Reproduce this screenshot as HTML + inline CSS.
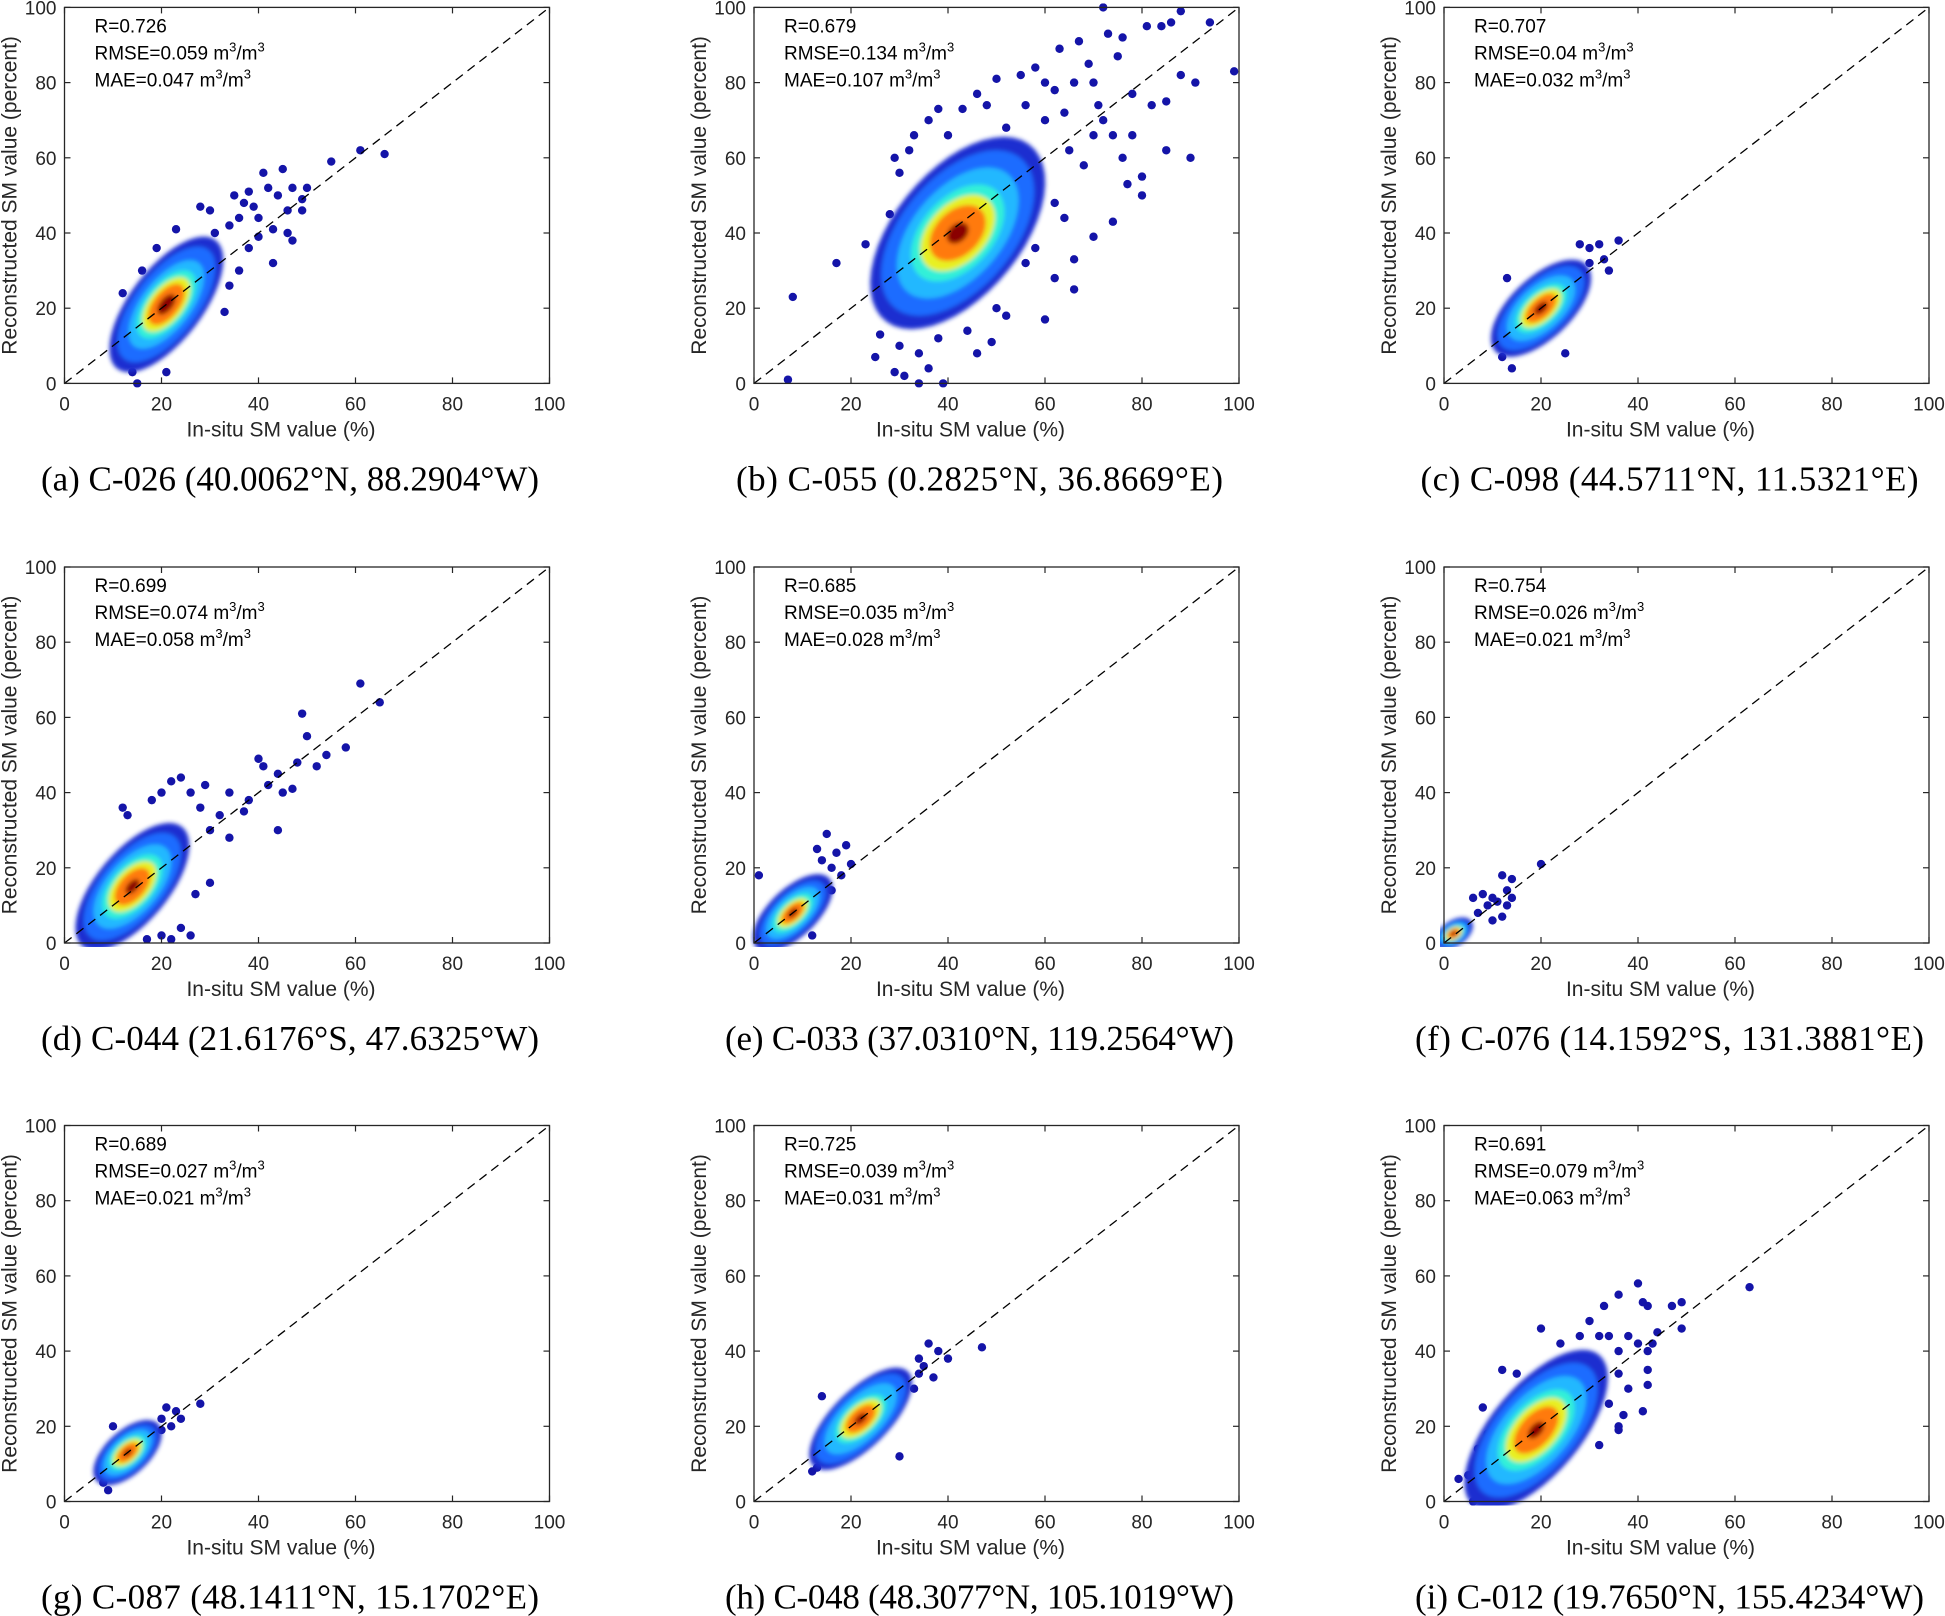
<!DOCTYPE html>
<html><head><meta charset="utf-8">
<style>
html,body{margin:0;padding:0;background:#fff;}
svg{display:block;}
.tick{font-family:"Liberation Sans",sans-serif;font-size:19px;fill:#262626;}
.lab{font-family:"Liberation Sans",sans-serif;font-size:21px;fill:#262626;}
.ann{font-family:"Liberation Sans",sans-serif;font-size:19px;fill:#000;}
.cap{font-family:"Liberation Serif",serif;font-size:35px;fill:#000;}
</style></head>
<body>
<svg id="fig" width="1945" height="1616" viewBox="0 0 1945 1616" xmlns="http://www.w3.org/2000/svg">
<defs><filter id="soft" x="-20%" y="-20%" width="140%" height="140%"><feGaussianBlur stdDeviation="2"/></filter></defs>
</svg>
<script>
// ---- data ----
const panelIds = ['a','b','c','d','e','f','g','h','i'];
const captions = ['C-026 (40.0062°N, 88.2904°W)','C-055 (0.2825°N, 36.8669°E)','C-098 (44.5711°N, 11.5321°E)',
 'C-044 (21.6176°S, 47.6325°W)','C-033 (37.0310°N, 119.2564°W)','C-076 (14.1592°S, 131.3881°E)',
 'C-087 (48.1411°N, 15.1702°E)','C-048 (48.3077°N, 105.1019°W)','C-012 (19.7650°N, 155.4234°W)'];
const rVals = ['0.726','0.679','0.707','0.699','0.685','0.754','0.689','0.725','0.691'];
const rmseVals = ['0.059','0.134','0.04','0.074','0.035','0.026','0.027','0.039','0.079'];
const maeVals = ['0.047','0.107','0.032','0.058','0.028','0.021','0.021','0.031','0.063'];
const tickVals = [0,20,40,60,80,100];
// density core per panel: centre x, centre y, tilt (deg), then half-lengths [along, across] per density level
const coreCenters = [[21,21],[42,40],[20,20],[14,15],[8,8],[2,2.5],[13,13],[22,22],[19,19]];
const coreTilt = [62,62,55,60,55,50,55,55,60];
const coreLevels = [
 [[20,8],[17,7],[13,5.5],[10,4.5],[8,3.7],[6,2.8],[3,1.4]],
 [[28,14],[24,12.5],[19,10],[14,8],[11,6.5],[8,5],[3,2]],
 [[15,7],[13,6],[10,5],[7.5,3.8],[6,3],[4.5,2.2],[2,1]],
 [[19,8],[16,7],[12.5,5.8],[9.5,4.7],[7.5,3.8],[5.5,2.8],[2.2,1.1]],
 [[12,5.5],[10,4.5],[8,3.7],[6,2.9],[4.5,2.2],[3.3,1.6],[1.5,0.7]],
 [[5,3],[4,2.5],[3.3,2],[2.6,1.7],[2.1,1.4],[1.6,1.1],[0.7,0.5]],
 [[10,5],[8.5,4.2],[7,3.5],[5.3,2.8],[4.2,2.2],[3,1.6],[1.2,0.6]],
 [[16,6.5],[14,5.8],[11,4.8],[7.5,3.7],[6,3],[4.3,2.2],[1.8,0.9]],
 [[24,10],[20,9],[16,7.5],[12,6],[9.5,4.8],[7,3.5],[2.5,1.3]]
];
const levelColors = ['#1c2fd0','#1f6cff','#22b8ff','#30f0d8','#e8f020','#ff7a10','#e01010'];
const coreDark = '#8a0000';
// sparse outlier points [x,y]
const outliers = [
 [[41,56],[45,57],[55,59],[61,62],[66,61],[47,52],[50,52],[42,52],[38,51],[35,50],[49,49],[49,46],[46,46],[43,41],[46,40],[47,38],[43,32],[33,19],[21,3],[15,0],[14,3],[12,24],[13,17],[40,44],[37,48],[39,47],[28,47],[30,46],[44,50],[23,41],[19,36],[16,30],[36,44],[34,42],[31,40],[38,36],[40,39],[36,30],[34,26]],
 [[7,1],[8,23],[17,32],[23,37],[72,100],[88,99],[94,96],[99,83],[91,80],[85,62],[90,60],[80,50],[74,43],[70,39],[66,25],[60,17],[39,0],[34,0],[29,3],[25,7],[81,95],[84,95],[86,96],[63,89],[67,91],[75,87],[55,82],[58,84],[50,81],[46,77],[82,74],[78,77],[71,74],[77,53],[80,55],[85,75],[88,82],[66,33],[62,28],[49,11],[46,8],[33,66],[36,70],[38,73],[30,56],[28,45],[43,73],[52,68],[69,85],[73,93],[76,92],[60,80],[64,72],[26,13],[31,2],[36,4],[65,62],[68,58],[70,66],[72,70],[74,66],[60,70],[56,74],[62,78],[66,80],[70,80],[78,66],[76,60],[62,48],[64,44],[58,36],[56,32],[30,10],[34,8],[38,12],[27,20],[29,60],[32,62],[40,66],[48,74],[44,14],[50,20],[52,18]],
 [[36,38],[32,37],[33,33],[12,7],[14,4],[30,36],[28,37],[34,30],[13,28],[25,8],[30,32],[12,12]],
 [[61,69],[65,64],[49,61],[50,55],[58,52],[54,50],[48,48],[52,47],[44,45],[40,49],[41,47],[45,40],[44,30],[37,35],[34,40],[38,38],[42,42],[24,44],[22,43],[29,42],[22,1],[17,1],[47,41],[12,36],[13,34],[30,16],[27,13],[30,30],[32,34],[28,36],[26,40],[20,40],[18,38],[34,28],[24,4],[20,2],[26,2]],
 [[15,29],[19,26],[17,24],[20,21],[18,18],[16,14],[13,25],[1,18],[12,2],[16,20],[14,22]],
 [[20,21],[12,18],[14,17],[13,14],[10,12],[8,13],[11,11],[13,10],[9,10],[7,8],[14,12],[6,12],[12,7],[10,6]],
 [[28,26],[23,24],[21,25],[24,22],[9,3],[8,5],[20,19],[10,20],[20,22],[22,20]],
 [[47,41],[40,38],[38,40],[36,42],[37,33],[12,8],[13,9],[34,38],[14,28],[30,12],[35,36],[34,34],[33,30]],
 [[63,57],[40,58],[49,53],[47,52],[49,46],[44,45],[41,53],[42,52],[36,55],[33,52],[20,46],[3,6],[6,0],[41,24],[32,15],[36,19],[42,31],[42,35],[42,40],[43,42],[37,23],[36,20],[12,35],[8,25],[5,7],[15,34],[24,42],[30,48],[11,0],[34,44],[38,44],[40,42],[36,40],[32,44],[28,44],[34,26],[38,30],[36,34],[9,18],[7,14]]
];
// ---- layout ----
const colLeft = [64.5, 754, 1444];
const rowTop = [7.4, 567, 1125.5];
const PW = 485, PH = 376;
const NS = 'http://www.w3.org/2000/svg';
const svg = document.getElementById('fig');
function mk(tag, attrs, parent){const e=document.createElementNS(NS,tag);for(const k in attrs)e.setAttribute(k,attrs[k]);(parent||svg).appendChild(e);return e;}

panelIds.forEach((pid, idx) => {
  const L = colLeft[idx%3], T = rowTop[Math.floor(idx/3)];
  const sx = v => L + v/100*PW;
  const sy = v => T + PH - v/100*PH;
  const g = mk('g', {});
  
  
  const clipId = 'clip'+pid;
  const cp = mk('clipPath', {id: clipId}, g);
  mk('rect', {x:L-4, y:T-4, width:PW+8, height:PH+8}, cp);
  const plot = mk('g', {'clip-path':'url(#'+clipId+')'}, g);
  
  
  outliers[idx].forEach(p => {
    const c = mk('circle', {cx:sx(p[0]), cy:sy(p[1]), r:4.2, fill:'#1414a8'}, plot);
    
    
  });
  const [cx, cy] = coreCenters[idx];
  const th = coreTilt[idx]*Math.PI/180;
  const dens = mk('g', {filter:'url(#soft)'}, plot);
  
  
  coreLevels[idx].forEach((lv, li) => {
    const pts = [];
    for (let k=0;k<48;k++){
      const t = k/48*2*Math.PI;
      const u = lv[0]*Math.cos(t), v = lv[1]*Math.sin(t);
      const dx = u*Math.cos(th) - v*Math.sin(th);
      const dy = u*Math.sin(th) + v*Math.cos(th);
      pts.push(sx(cx+dx).toFixed(1)+','+sy(cy+dy).toFixed(1));
    }
    const col = li === coreLevels[idx].length-1 ? coreDark : levelColors[li];
    const pg = mk('polygon', {points:pts.join(' '), fill:col}, dens);
    
    
  });
  const d = mk('line', {x1:sx(0), y1:sy(0), x2:sx(100), y2:sy(100), stroke:'#000', 'stroke-width':1.3, 'stroke-dasharray':'9,6'}, g);
  
  
  const bx = mk('rect', {x:L, y:T, width:PW, height:PH, fill:'none', stroke:'#262626', 'stroke-width':1.3}, g);
  
  
  tickVals.forEach(v => {
    mk('line', {x1:sx(v), y1:T+PH, x2:sx(v), y2:T+PH-6, stroke:'#262626','stroke-width':1.2}, g);
    mk('line', {x1:sx(v), y1:T, x2:sx(v), y2:T+6, stroke:'#262626','stroke-width':1.2}, g);
    mk('line', {x1:L, y1:sy(v), x2:L+6, y2:sy(v), stroke:'#262626','stroke-width':1.2}, g);
    mk('line', {x1:L+PW, y1:sy(v), x2:L+PW-6, y2:sy(v), stroke:'#262626','stroke-width':1.2}, g);
    const xt = mk('text', {x:sx(v), y:T+PH+27, 'text-anchor':'middle', class:'tick'}, g);
    xt.textContent = v;
    
    
    const yt = mk('text', {x:L-8, y:sy(v)+7, 'text-anchor':'end', class:'tick'}, g);
    yt.textContent = v;
    
    
  });
  const xl = mk('text', {x:L+PW/2-26, y:T+PH+53, 'text-anchor':'middle', class:'lab'}, g);
  xl.textContent = 'In-situ SM value (%)';
  
  
  const yl = mk('text', {x:0, y:0, 'text-anchor':'middle', class:'lab', transform:'translate('+(L-48)+','+(T+PH/2)+') rotate(-90)'}, g);
  yl.textContent = 'Reconstructed SM value (percent)';
  
  
  const a1 = mk('text', {x:L+30, y:T+25, class:'ann'}, g);
  a1.textContent = 'R=' + rVals[idx];
  
  
  const a2 = mk('text', {x:L+30, y:T+52, class:'ann'}, g);
  a2.innerHTML = 'RMSE=' + rmseVals[idx] + ' m<tspan dy="-8" font-size="13">3</tspan><tspan dy="8">/m</tspan><tspan dy="-8" font-size="13">3</tspan>';
  
  
  const a3 = mk('text', {x:L+30, y:T+79, class:'ann'}, g);
  a3.innerHTML = 'MAE=' + maeVals[idx] + ' m<tspan dy="-8" font-size="13">3</tspan><tspan dy="8">/m</tspan><tspan dy="-8" font-size="13">3</tspan>';
  
  
  const capText = '(' + pid + ')  ' + captions[idx];
  const cap = mk('text', {x:L+PW/2-17, y:T+483, 'text-anchor':'middle', class:'cap', textLength: 11*capText.length+135, lengthAdjust:'spacing'}, g);
  cap.textContent = capText;
  
  
});
</script>
</body></html>
